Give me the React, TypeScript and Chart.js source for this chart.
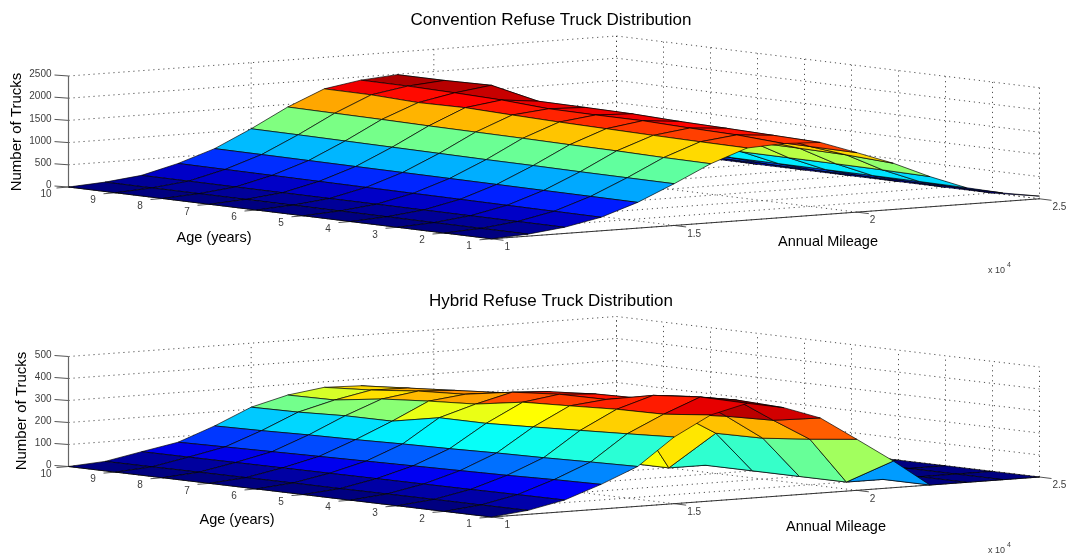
import React, { useEffect, useRef } from "react";
import { Chart, registerables } from "chart.js";

Chart.register(...registerables);

const ages = [10, 9, 8, 7, 6, 5, 4, 3, 2, 1];
const mileages = [10000, 11000, 12000, 13000, 14000, 15000, 16000, 17000, 18000, 19000, 20000, 21000, 22000, 23000, 24000, 25000];
const mileageTicks = [10000, 15000, 20000, 25000];
const mileageTickLabels = ["1", "1.5", "2", "2.5"];
const conventionalTicks = [0, 500, 1000, 1500, 2000, 2500];
const hybridTicks = [0, 100, 200, 300, 400, 500];

// rows: mileage; columns: age 10 .. 1
const conventionalCounts = [
  [0, 0, 0, 0, 0, 0, 0, 0, 0, 0],
  [50, 50, 50, 50, 50, 48, 48, 46, 46, 45],
  [142, 142, 140, 140, 140, 140, 140, 140, 140, 140],
  [350, 345, 340, 335, 330, 325, 320, 315, 310, 305],
  [624, 620, 615, 610, 605, 600, 595, 590, 585, 580],
  [1011, 1005, 995, 985, 975, 965, 960, 950, 945, 940],
  [1441, 1430, 1420, 1405, 1395, 1385, 1370, 1360, 1340, 1330],
  [1790, 1785, 1740, 1755, 1720, 1690, 1670, 1650, 1635, 1625],
  [1926, 1922, 1900, 1868, 1800, 1790, 1790, 1755, 1730, 1665],
  [1990, 1990, 2010, 1780, 1770, 1755, 1715, 1690, 1660, 1630],
  [1430, 1420, 1410, 1400, 1390, 1380, 1370, 1360, 1350, 1340],
  [1150, 1150, 1145, 1140, 1140, 1130, 1130, 1120, 1100, 1040],
  [730, 730, 725, 725, 720, 720, 715, 710, 700, 680],
  [420, 420, 415, 410, 400, 395, 390, 385, 380, 370],
  [200, 200, 200, 195, 195, 190, 190, 190, 190, 190],
  [0, 0, 0, 0, 0, 0, 0, 0, 0, 60],
];

const hybridCounts = [
  [0, 0, 0, 0, 0, 0, 0, 0, 0, 0],
  [11, 12, 13, 14, 15, 15, 16, 17, 17, 18],
  [43, 44, 45, 46, 47, 48, 49, 50, 52, 53],
  [74, 78, 82, 86, 90, 94, 98, 102, 108, 112],
  [136, 140, 146, 150, 156, 160, 166, 170, 176, 181],
  [209, 212, 221, 222, 263, 263, 272, 282, 292, 303],
  [252, 255, 285, 301, 313, 347, 356, 366, 369, 391],
  [275, 288, 309, 320, 355, 371, 373, 417, 435, 432],
  [270, 285, 300, 315, 345, 360, 365, 400, 409, 400],
  [240, 250, 260, 270, 290, 270, 282, 298, 305, 341],
  [0, 0, 0, 0, 0, 0, 183, 186, 207, 232],
  [0, 0, 0, 0, 0, 0, 0, 0, 0, 121],
  [0, 0, 0, 0, 0, 0, 0, 0, 0, 0],
  [0, 0, 0, 0, 0, 0, 0, 0, 0, 0],
  [0, 0, 0, 0, 0, 0, 0, 0, 0, 0],
  [0, 0, 0, 0, 0, 0, 0, 0, 0, 0],
];

const FONT = '"Liberation Sans", Arial, sans-serif';
const W = 1068;
const H = 279;
const LEFT = 34;

type Cfg = {
  title: string;
  titleTop: number;
  counts: number[][];
  zTicks: number[];
  originY: number;
  frontY: number;
  height: number;
  zLabelX: number;
  zLabelY: number;
  ageLabel: [number, number];
  mileLabel: [number, number];
  expY: number;
};

const clamp = (v: number) => Math.max(0, Math.min(1, v));
function jet(t: number) {
  const r = clamp(Math.min(4 * t - 1.5, -4 * t + 4.5));
  const g = clamp(Math.min(4 * t - 0.5, -4 * t + 3.5));
  const b = clamp(Math.min(4 * t + 0.5, -4 * t + 2.5));
  return `rgb(${Math.round(r * 255)},${Math.round(g * 255)},${Math.round(b * 255)})`;
}

function makeProjection(cfg: Cfg) {
  const zMax = cfg.zTicks[cfg.zTicks.length - 1];
  return (age: number, mile: number, z: number) => {
    const u = (10 - age) / 9;
    const v = (mile - 10000) / 15000;
    return {
      x: 68.5 + 423 * u + 548 * v,
      y: cfg.originY + (cfg.frontY - cfg.originY) * u - 40 * v - (z / zMax) * cfg.height,
    };
  };
}

function buildDatasets(cfg: Cfg) {
  const p = makeProjection(cfg);
  const zMax = cfg.zTicks[cfg.zTicks.length - 1];
  const peak = Math.max(...cfg.counts.flat());
  const out: any[] = [];

  // nearest facet first: Chart.js paints dataset 0 last
  for (let j = 0; j < mileages.length - 1; j++) {
    for (let k = ages.length - 2; k >= 0; k--) {
      const c = cfg.counts;
      const data = [
        p(ages[k], mileages[j], c[j][k]),
        p(ages[k + 1], mileages[j], c[j][k + 1]),
        p(ages[k + 1], mileages[j + 1], c[j + 1][k + 1]),
        p(ages[k], mileages[j + 1], c[j + 1][k]),
        p(ages[k], mileages[j], c[j][k]),
      ];
      out.push({
        data,
        showLine: true,
        fill: "shape",
        backgroundColor: jet(c[j][k + 1] / peak),
        borderColor: "rgba(0,0,0,0.85)",
        borderWidth: 0.8,
        pointRadius: 0,
        clip: false,
      });
    }
  }

  const solid = (a: any, b: any, color = "#444", width = 1) =>
    out.push({ data: [a, b], showLine: true, fill: false, borderColor: color, borderWidth: width, pointRadius: 0, clip: false });
  const dotted = (a: any, b: any) =>
    out.push({ data: [a, b], showLine: true, fill: false, borderColor: "rgba(50,50,50,0.85)", borderWidth: 1, borderDash: [1.2, 3.8], pointRadius: 0, clip: false });

  const mMin = mileages[0];
  const mMax = mileages[mileages.length - 1];

  // solid axes and outward tick marks
  solid(p(10, mMin, 0), p(10, mMin, zMax), "#666", 1.2);
  solid(p(10, mMin, 0), p(1, mMin, 0), "#333", 1);
  solid(p(1, mMin, 0), p(1, mMax, 0), "#333", 1);
  for (const z of cfg.zTicks) {
    const a = p(10, mMin, z);
    solid(a, { x: a.x - 14, y: a.y - 1 }, "#555", 1);
  }
  for (const age of ages) {
    const a = p(age, mMin, 0);
    solid(a, { x: a.x - 12, y: a.y + 1 }, "#555", 1);
  }
  for (const m of mileageTicks) {
    const a = p(1, m, 0);
    solid(a, { x: a.x + 12, y: a.y + 1.5 }, "#555", 1);
  }

  // dotted box grid
  for (const z of cfg.zTicks) {
    dotted(p(10, mMin, z), p(10, mMax, z));
    dotted(p(10, mMax, z), p(1, mMax, z));
  }
  for (const m of mileageTicks) {
    dotted(p(10, m, 0), p(10, m, zMax));
    dotted(p(10, m, 0), p(1, m, 0));
  }
  for (const age of ages) {
    dotted(p(age, mMax, 0), p(age, mMax, zMax));
    dotted(p(age, mMin, 0), p(age, mMax, 0));
  }
  return out;
}

function labelPlugin(cfg: Cfg) {
  const p = makeProjection(cfg);
  return {
    id: "axisText",
    afterDraw(chart: any) {
      const ctx = chart.ctx;
      const sx = (v: number) => chart.scales.x.getPixelForValue(v);
      const sy = (v: number) => chart.scales.y.getPixelForValue(v);
      const text = (s: string, x: number, y: number, size: number, color: string, align: CanvasTextAlign = "center") => {
        ctx.font = `${size}px ${FONT}`;
        ctx.fillStyle = color;
        ctx.textAlign = align;
        ctx.textBaseline = "middle";
        ctx.fillText(s, sx(x), sy(y));
      };
      ctx.save();
      const tickColor = "#3c3c3c";
      for (const z of cfg.zTicks) {
        const a = p(10, mileages[0], z);
        text(String(z), a.x - 17, a.y - 1.5, 10, tickColor, "right");
      }
      for (const age of ages) {
        const a = p(age, mileages[0], 0);
        text(String(age), a.x - 22.5, a.y + 7.5, 10, tickColor);
      }
      mileageTicks.forEach((m, i) => {
        const a = p(1, m, 0);
        text(mileageTickLabels[i], a.x + 13, a.y + 8.5, 10, tickColor, "left");
      });
      text("Age (years)", cfg.ageLabel[0], cfg.ageLabel[1], 14.5, "#000");
      text("Annual Mileage", cfg.mileLabel[0], cfg.mileLabel[1], 14.5, "#000");
      text("x 10", 988, cfg.expY, 9, tickColor, "left");
      text("4", 1007, cfg.expY - 6, 7, tickColor, "left");
      ctx.translate(sx(cfg.zLabelX), sy(cfg.zLabelY));
      ctx.rotate(-Math.PI / 2);
      ctx.font = `15px ${FONT}`;
      ctx.fillStyle = "#000";
      ctx.textAlign = "center";
      ctx.textBaseline = "middle";
      ctx.fillText("Number of Trucks", 0, 0);
      ctx.restore();
    },
  };
}

function Panel({ cfg }: { cfg: Cfg }) {
  const ref = useRef<HTMLCanvasElement>(null);
  useEffect(() => {
    const chart = new Chart(ref.current as HTMLCanvasElement, {
      type: "scatter",
      data: { datasets: buildDatasets(cfg) },
      plugins: [labelPlugin(cfg)],
      options: {
        animation: false,
        responsive: false,
        layout: { padding: { left: LEFT } },
        scales: {
          x: { type: "linear", display: false, min: LEFT, max: W },
          y: { type: "linear", display: false, reverse: true, min: cfg.titleTop + 21.4, max: H },
        },
        plugins: {
          legend: { display: false },
          tooltip: { enabled: false },
          title: {
            display: true,
            text: cfg.title,
            color: "#000",
            font: { family: FONT, size: 17, weight: "normal" },
            padding: { top: cfg.titleTop, bottom: 1 },
          },
        },
      },
    } as any);
    return () => chart.destroy();
  }, [cfg]);
  return <canvas ref={ref} width={W} height={H} style={{ display: "block", width: W, height: H, filter: "blur(0.3px)" }} />;
}

const topCfg: Cfg = {
  title: "Convention Refuse Truck Distribution",
  titleTop: 10,
  counts: conventionalCounts,
  zTicks: conventionalTicks,
  originY: 187,
  frontY: 238.8,
  height: 111,
  zLabelX: 17,
  zLabelY: 132,
  ageLabel: [214, 238],
  mileLabel: [828, 242],
  expY: 271,
};

const bottomCfg: Cfg = {
  title: "Hybrid Refuse Truck Distribution",
  titleTop: 12,
  counts: hybridCounts,
  zTicks: hybridTicks,
  originY: 187.5,
  frontY: 238,
  height: 110,
  zLabelX: 22,
  zLabelY: 132,
  ageLabel: [237, 241],
  mileLabel: [836, 248],
  expY: 272,
};

export default function App() {
  return (
    <div style={{ position: "absolute", left: 0, top: 0, width: W, height: 2 * H, background: "#fff" }}>
      <Panel cfg={topCfg} />
      <Panel cfg={bottomCfg} />
    </div>
  );
}
